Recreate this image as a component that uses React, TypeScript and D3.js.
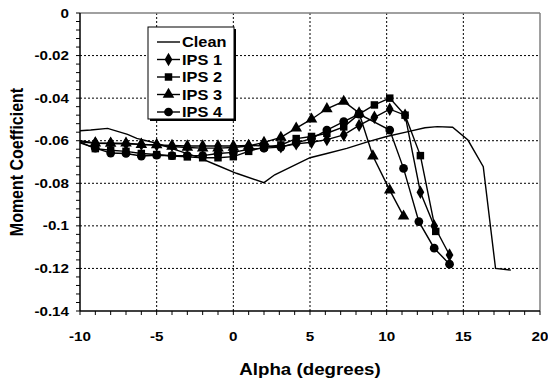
import * as d3 from "d3";
import React from "react";

// clean airfoil
const cleanAlpha = [-10, -9.3, -8.2, -6.9, -6.3, -5, -3.7, -2.4, -1.1, 0.2, 2, 2.7, 3.8, 5, 6.1, 7.4, 8.8, 10, 11.4, 12.5, 13.3, 14.3, 15.3, 16.3, 17.1, 18.1];
const cleanCm = [-0.0553, -0.055, -0.0542, -0.057, -0.0589, -0.0612, -0.0644, -0.0675, -0.0714, -0.0753, -0.0797, -0.076, -0.0722, -0.068, -0.066, -0.0636, -0.0604, -0.058, -0.0557, -0.0539, -0.0534, -0.0537, -0.0597, -0.0722, -0.12, -0.1208];

const preAlpha = [-10, -9, -8, -7, -6, -5, -4, -3, -2, -1, 0, 1, 2];

const ips1Alpha = [...preAlpha, 3.1, 4.1, 5.1, 6.1, 7.2, 8.2, 9.2, 10.2, 11.2, 12.2, 13.1, 14.1];
const ips1Cm = [-0.06, -0.061, -0.0612, -0.0615, -0.0617, -0.062, -0.0622, -0.0625, -0.0625, -0.0625, -0.0625, -0.0622, -0.0625,
  -0.0628, -0.0615, -0.0607, -0.0595, -0.0573, -0.0528, -0.049, -0.0452, -0.048, -0.0842, -0.1001, -0.1137];

const ips2Alpha = [...preAlpha, 3.1, 4.1, 5.1, 6.1, 7.2, 8.2, 9.2, 10.2, 11.2, 12.2, 13.2];
const ips2Cm = [-0.0605, -0.0637, -0.0645, -0.065, -0.066, -0.0665, -0.0672, -0.0676, -0.068, -0.068, -0.0675, -0.065, -0.063,
  -0.062, -0.059, -0.058, -0.0565, -0.0535, -0.0475, -0.0432, -0.04, -0.048, -0.067, -0.1026];

const ips3Alpha = [...preAlpha, 3.1, 4.1, 5.1, 6.1, 7.2, 8.2, 9.1, 10.2, 11.1];
const ips3Cm = [-0.0605, -0.0612, -0.0613, -0.0612, -0.0618, -0.062, -0.0627, -0.0632, -0.0635, -0.0635, -0.0632, -0.0625, -0.0608,
  -0.0584, -0.0541, -0.0499, -0.045, -0.0415, -0.047, -0.0672, -0.0832, -0.0954];

const ips4Alpha = [...preAlpha, 3.1, 4.1, 5.1, 6.1, 7.2, 8.2, 10.2, 11.1, 12.1, 13.1, 14.1];
const ips4Cm = [-0.061, -0.0635, -0.0658, -0.066, -0.0672, -0.0668, -0.067, -0.067, -0.067, -0.066, -0.0655, -0.064, -0.0635,
  -0.063, -0.061, -0.059, -0.055, -0.051, -0.0475, -0.055, -0.073, -0.098, -0.1105, -0.118];

const seriesNames = ["Clean", "IPS 1", "IPS 2", "IPS 3", "IPS 4"];
const xTicks = [-10, -5, 0, 5, 10, 15, 20];
const yTicks = [0, -0.02, -0.04, -0.06, -0.08, -0.1, -0.12, -0.14];

const width = 548;
const height = 385;
const margin = { top: 13, right: 8, bottom: 74, left: 80 };
const font = "Arial, 'Liberation Sans', sans-serif";
const sx = 1.17; // the picture's text is stretched sideways

function T(props: { x: number; y: number; size: number; anchor?: string; rotate?: boolean; children: React.ReactNode }) {
  const { x, y, size, anchor, rotate, children } = props;
  return (
    <text
      transform={`translate(${x},${y}) scale(${sx},1)${rotate ? " rotate(-90)" : ""}`}
      textAnchor={anchor || "start"}
      fontFamily={font}
      fontWeight="bold"
      fontSize={size}
      fill="#000"
    >
      {children}
    </text>
  );
}

export default function App() {
  const x = d3.scaleLinear().domain([-10, 20]).range([margin.left, width - margin.right]);
  const y = d3.scaleLinear().domain([-0.14, 0]).range([height - margin.bottom, margin.top]);

  const line = d3
    .line<[number, number]>()
    .x((d) => x(d[0]))
    .y((d) => y(d[1]));

  const symbols = [null, d3.symbolDiamond, d3.symbolSquare, d3.symbolTriangle, d3.symbolCircle];
  const sizes = [0, 52, 56, 58, 60];

  const series = [
    { a: cleanAlpha, v: cleanCm },
    { a: ips1Alpha, v: ips1Cm },
    { a: ips2Alpha, v: ips2Cm },
    { a: ips3Alpha, v: ips3Cm },
    { a: ips4Alpha, v: ips4Cm },
  ].map((s, i) => ({
    name: seriesNames[i],
    pts: s.a.map((a, j) => [a, s.v[j]] as [number, number]),
    sym: symbols[i] ? d3.symbol().type(symbols[i]!).size(sizes[i])() : null,
  }));

  const x0 = x(-10), x1 = x(20), y0 = y(-0.14), y1 = y(0);
  const xMinor = d3.range(-10, 20.01, 1);
  const yMinor = d3.range(0, 0.1401, 0.004).map((v) => -v);

  const legendX = 148, legendY = 27, legendW = 86, legendH = 92;

  return (
    <svg width={width} height={height} style={{ position: "absolute", left: 0, top: 0, background: "#fff" }}>
      <rect x={0} y={0} width={width} height={height} fill="#fff" />
      {/* grid */}
      {xTicks.filter((t) => t > -10 && t < 20).map((t) => (
        <line key={"gx" + t} x1={x(t)} x2={x(t)} y1={y1} y2={y0} stroke="#000" strokeDasharray="2,2" strokeWidth={1} />
      ))}
      {yTicks.filter((t) => t < 0 && t > -0.14).map((t) => (
        <line key={"gy" + t} x1={x0} x2={x1} y1={y(t)} y2={y(t)} stroke="#000" strokeDasharray="2,2" strokeWidth={1} />
      ))}
      {/* frame */}
      <line x1={x0} x2={x1} y1={y1} y2={y1} stroke="#808080" strokeWidth={1.5} />
      <line x1={x1} x2={x1} y1={y1} y2={y0} stroke="#808080" strokeWidth={1.5} />

      {/* series */}
      {series.map((s) => (
        <g key={s.name}>
          <path d={line(s.pts) || ""} fill="none" stroke="#000" strokeWidth={1.4} />
          {s.sym &&
            s.pts
              .filter((p) => p[0] > -10)
              .map((p, j) => <path key={j} d={s.sym!} transform={`translate(${x(p[0])},${y(p[1])})`} fill="#000" />)}
        </g>
      ))}

      {/* axes */}
      <line x1={x0} x2={x0} y1={y1} y2={y0} stroke="#000" strokeWidth={1.5} />
      <line x1={x0} x2={x1} y1={y0} y2={y0} stroke="#000" strokeWidth={1.5} />
      {xMinor.map((t) => (
        <line key={"tx" + t} x1={x(t)} x2={x(t)} y1={y0} y2={y0 + 4} stroke="#000" strokeWidth={1} />
      ))}
      {yMinor.map((t) => (
        <line key={"ty" + t} x1={x0 - 4} x2={x0} y1={y(t)} y2={y(t)} stroke="#000" strokeWidth={1} />
      ))}
      {xTicks.map((t) => (
        <T key={"lx" + t} x={x(t)} y={y0 + 30} size={13} anchor="middle">{String(t)}</T>
      ))}
      {yTicks.map((t) => (
        <T key={"ly" + t} x={x0 - 11} y={y(t) + 4.5} size={13} anchor="end">{t === 0 ? "0" : String(t)}</T>
      ))}
      <T x={(x0 + x1) / 2} y={375} size={16} anchor="middle">Alpha (degrees)</T>
      <T x={22.5} y={(y0 + y1) / 2} size={16} anchor="middle" rotate>Moment Coefficient</T>

      {/* legend */}
      <rect x={legendX + 2} y={legendY + 2} width={legendW} height={legendH} fill="#000" />
      <rect x={legendX} y={legendY} width={legendW} height={legendH} fill="#fff" stroke="#000" strokeWidth={1} />
      {series.map((s, i) => {
        const cy = legendY + 15 + i * 17.5;
        return (
          <g key={"lg" + s.name}>
            <line x1={legendX + 9} x2={legendX + 32} y1={cy} y2={cy} stroke="#000" strokeWidth={1.4} />
            {s.sym && <path d={s.sym} transform={`translate(${legendX + 20.5},${cy})`} fill="#000" />}
            <T x={legendX + 34} y={cy + 5} size={14}>{s.name}</T>
          </g>
        );
      })}
    </svg>
  );
}
